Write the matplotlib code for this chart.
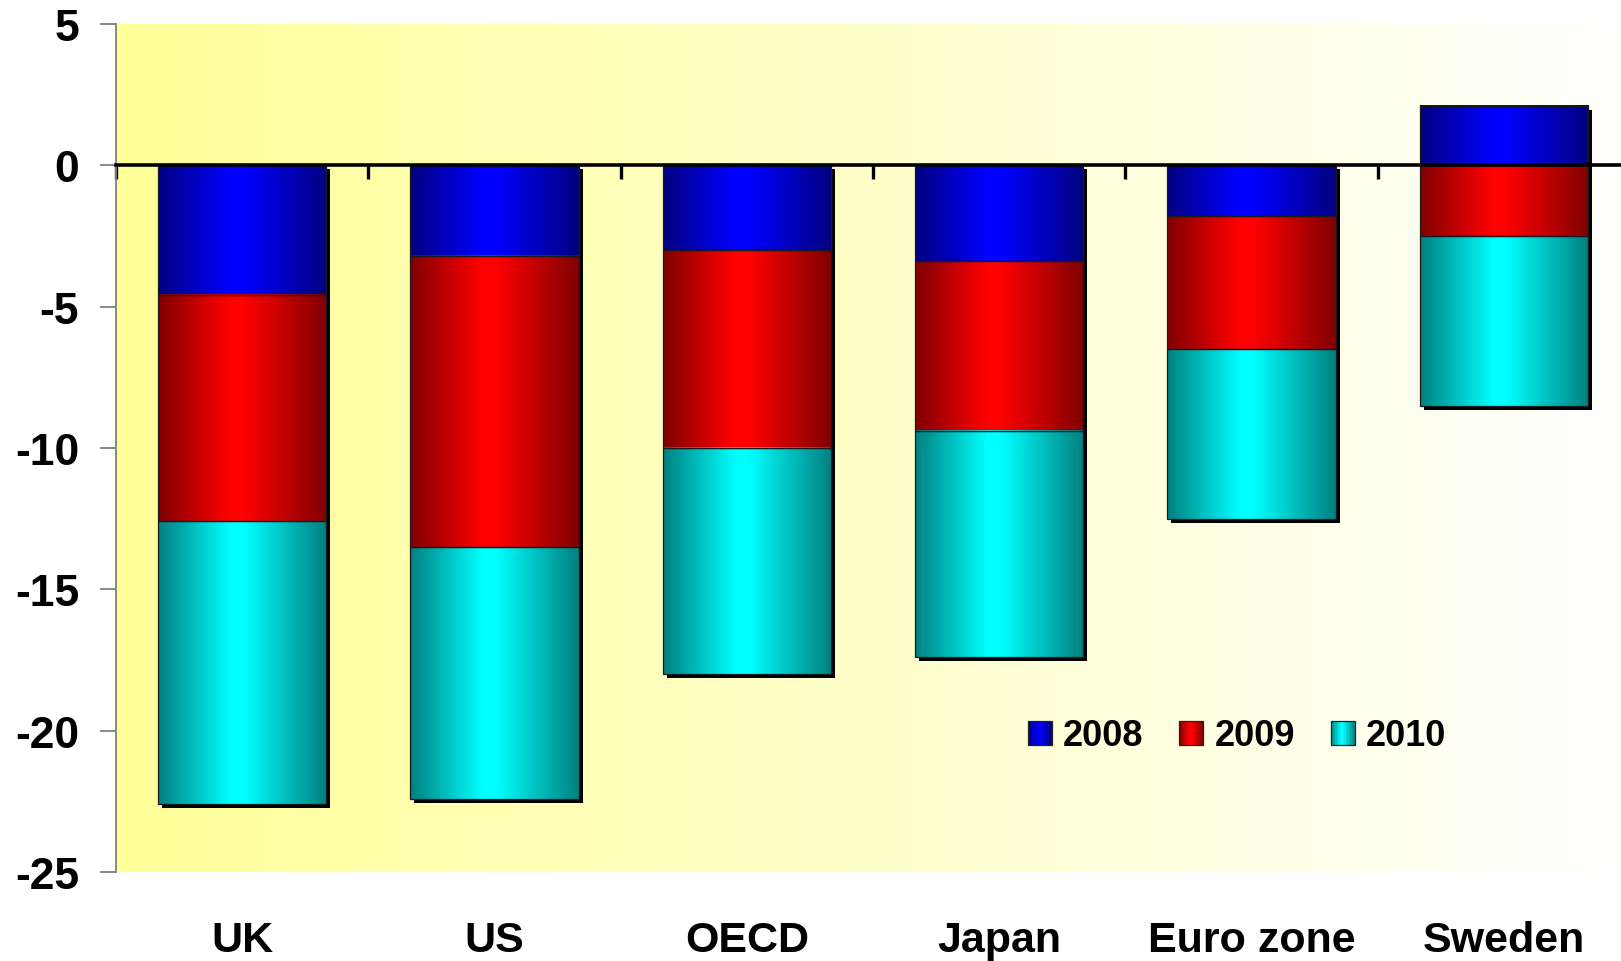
import numpy as np
import matplotlib
matplotlib.use("Agg")
import matplotlib.pyplot as plt
from matplotlib.patches import Rectangle
from matplotlib.container import BarContainer
from matplotlib.legend_handler import HandlerBase
from matplotlib.transforms import offset_copy

plt.rcParams["font.family"] = ["Liberation Sans", "DejaVu Sans"]
plt.rcParams["font.weight"] = "bold"
plt.rcParams["axes.unicode_minus"] = False

# Output gap by country, stacked by year (percent)
categories = ["UK", "US", "OECD", "Japan", "Euro zone", "Sweden"]
years = ["2008", "2009", "2010"]
loss_2008 = [-4.6, -3.2, -3.0, -3.4, -1.8, 2.1]
loss_2009 = [-8.0, -10.3, -7.0, -6.0, -4.7, -2.5]
loss_2010 = [-10.0, -8.9, -8.0, -8.0, -6.0, -6.0]
y_ticks = [-25, -20, -15, -10, -5, 0, 5]

series = [loss_2008, loss_2009, loss_2010]
dark_rgb = [(0, 0, 128), (128, 0, 0), (0, 128, 128)]
bright_rgb = [(0, 0, 255), (255, 0, 0), (0, 255, 255)]


def shade(dark, bright, n=256, peak=0.47, flat=0.04):
    """Horizontal 'cylinder' shading: dark edges, bright band near the middle."""
    u = np.linspace(0, 1, n)
    d = u - peak
    half = np.where(d < 0, peak, 1 - peak)
    f = 1 - np.clip((np.abs(d) - flat) / (half - flat), 0, 1)
    dark = np.array(dark, float)
    bright = np.array(bright, float)
    rgb = (dark + (bright - dark) * f[:, None]) / 255.0
    return rgb[None, :, :]


shades = {yr: shade(d, b) for yr, d, b in zip(years, dark_rgb, bright_rgb)}


class GradientHandler(HandlerBase):
    def create_artists(self, legend, orig_handle, xdescent, ydescent,
                       width, height, fontsize, trans):
        grad = shades[orig_handle.get_label()][0]
        n = 16
        arts = []
        for k in range(n):
            c = grad[int((k + 0.5) / n * (len(grad) - 1))]
            arts.append(Rectangle((-xdescent + k * width / n, -ydescent),
                                  width / n * 1.05, height, facecolor=c,
                                  edgecolor="none", transform=trans))
        arts.append(Rectangle((-xdescent, -ydescent), width, height,
                              facecolor="none", edgecolor="#202020",
                              linewidth=0.9, transform=trans))
        return arts


W, H = 1621, 962
fig = plt.figure(figsize=(W / 100, H / 100), dpi=100)
ax = fig.add_axes([116 / W, 1 - 873 / H, 1514 / W, 848 / H])
ax.patch.set_visible(False)

# plot-area background: pale yellow fading to white
bg = np.linspace(0, 1, 512)
bg_rgb = np.stack([np.ones_like(bg), np.ones_like(bg),
                   (153 + 102 * bg) / 255.0], axis=-1)[None, :, :]
ax.imshow(bg_rgb, extent=[0, 1, 0, 1], transform=ax.transAxes,
          aspect="auto", zorder=0, interpolation="bilinear")

x = np.arange(len(categories))
bar_w = 0.666
pos_base = np.zeros(len(categories))
neg_base = np.zeros(len(categories))
containers = []
for yr, vals in zip(years, series):
    v = np.array(vals, float)
    bottom = np.where(v >= 0, pos_base, neg_base)
    bc = ax.bar(x, v, width=bar_w, bottom=bottom, facecolor="none",
                edgecolor="#1a1a1a", linewidth=0.9, zorder=3, label=yr)
    for p in bc.patches:
        x0, y0 = p.get_xy()
        w, h = p.get_width(), p.get_height()
        ax.imshow(shades[yr], extent=[x0, x0 + w, min(y0, y0 + h), max(y0, y0 + h)],
                  aspect="auto", zorder=2.6, interpolation="bilinear")
    containers.append(bc)
    pos_base += np.clip(v, 0, None)
    neg_base += np.clip(v, None, 0)

# drop shadow behind each stacked column
shadow_tr = offset_copy(ax.transData, fig=fig, x=4, y=-4, units="dots")
for i, p in enumerate(containers[0].patches):
    ax.add_patch(Rectangle((p.get_x(), neg_base[i]), p.get_width(),
                           pos_base[i] - neg_base[i], transform=shadow_tr,
                           facecolor="black", edgecolor="none", zorder=2.2))

ax.set_xlim(-0.5, len(categories) - 0.5)
ax.set_ylim(y_ticks[0], y_ticks[-1])

# zero line with category-boundary ticks
ax.spines["bottom"].set_position(("data", 0))
ax.spines["bottom"].set_linewidth(2.6)
ax.spines["bottom"].set_zorder(5)
ax.spines["top"].set_visible(False)
ax.spines["right"].set_visible(False)
ax.set_xticks(np.arange(-0.5, len(categories), 1.0))
ax.tick_params(axis="x", direction="out", length=10, width=2.4,
               color="black", labelbottom=False)

ax.spines["left"].set_color("#808080")
ax.spines["left"].set_linewidth(1.3)
ax.set_yticks(y_ticks)
ax.tick_params(axis="y", direction="out", length=11.5, width=1.3,
               color="#808080", pad=15, labelsize=32, labelcolor="black")

# category names below the plot area
sec = ax.secondary_xaxis("bottom")
sec.set_xticks(x, labels=categories)
sec.tick_params(length=0, pad=34.5, labelsize=31)
sec.spines["bottom"].set_visible(False)

ax.legend(containers, years, handler_map={BarContainer: GradientHandler()},
          ncol=3, loc="center", bbox_to_anchor=(1237 / W, 1 - 737 / H),
          bbox_transform=fig.transFigure, frameon=False,
          prop={"size": 26, "weight": "bold"}, handlelength=0.667,
          handleheight=0.667, handletextpad=0.3, columnspacing=1.0)

fig.savefig("out.png", dpi=100)
